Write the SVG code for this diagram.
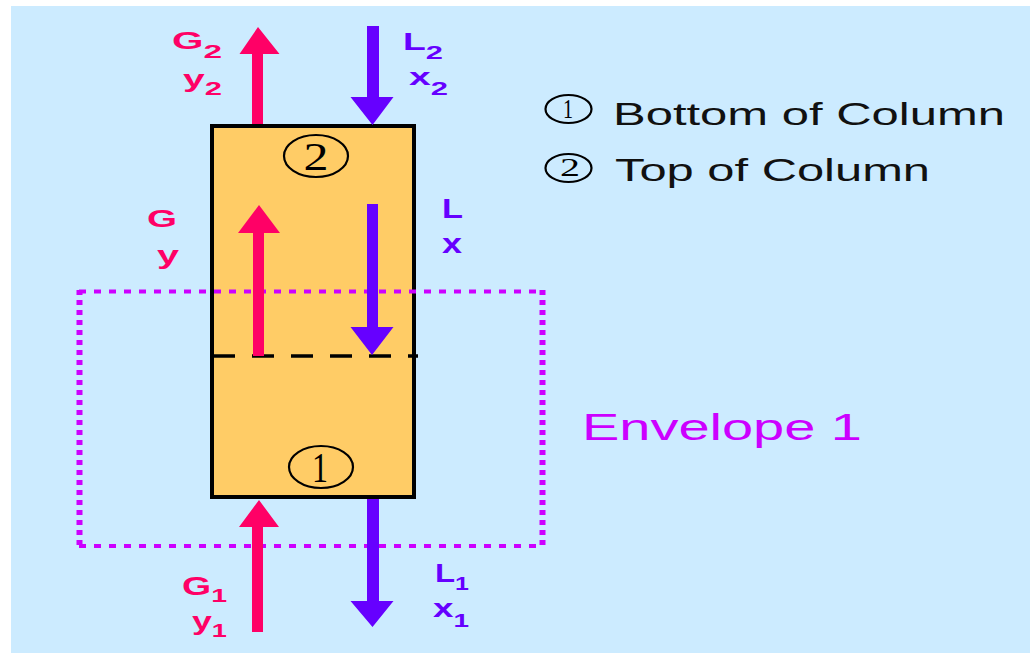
<svg xmlns="http://www.w3.org/2000/svg" width="1030" height="653" viewBox="0 0 1030 653">
<style>
.lbl{font-family:"Liberation Sans",Arial,sans-serif;font-weight:bold;}
.g{fill:#FF0066;}
.l{fill:#6600FF;}
.num{font-family:"Liberation Serif","Times New Roman",serif;fill:#000;}
.ell{fill:none;stroke:#000;stroke-width:2.2;}
.leg{font-family:"Liberation Sans",Arial,sans-serif;font-size:32px;fill:#111;}
.env{stroke:#CC00FF;fill:none;}
</style>
<rect x="0" y="0" width="1030" height="653" fill="#FFFFFF"/>
<rect x="11" y="6" width="1019" height="647" fill="#CCEBFF"/>

<g id="column">
<rect x="212" y="126" width="202" height="371" fill="#FFCC66" stroke="#000" stroke-width="4"/>
<line x1="213" y1="356" x2="418" y2="356" stroke="#000" stroke-width="3.5" stroke-dasharray="22 17"/>
<ellipse class="ell" cx="316" cy="156" rx="32" ry="21"/>
<text class="num" x="316" y="170" font-size="40" text-anchor="middle" textLength="25" lengthAdjust="spacingAndGlyphs">2</text>
<ellipse class="ell" cx="321" cy="467" rx="32" ry="21"/>
<text class="num" x="320" y="482" font-size="42" text-anchor="middle" textLength="16" lengthAdjust="spacingAndGlyphs">1</text>
</g>

<g id="envelope">
<line class="env" x1="79" y1="291.5" x2="542" y2="291.5" stroke-width="4" stroke-dasharray="7 8"/>
<line class="env" x1="79" y1="546" x2="542" y2="546" stroke-width="4" stroke-dasharray="7 8"/>
<line class="env" x1="79.5" y1="290" x2="79.5" y2="548" stroke-width="6" stroke-dasharray="5 5"/>
<line class="env" x1="542.5" y1="290" x2="542.5" y2="548" stroke-width="6" stroke-dasharray="5 5"/>
<text x="582" y="440" font-family="Liberation Sans,Arial,sans-serif" font-size="37" fill="#CC00FF" textLength="280" lengthAdjust="spacingAndGlyphs">Envelope 1</text>
</g>

<g id="connectors">
<path class="g" d="M252,124 V54 H239.5 L258,27 L279.5,54 H263 V124 Z"/>
<path class="l" d="M367,26 H379 V97 H393.5 L372.5,125 L350.5,97 H367 Z"/>
<path class="g" d="M253,356 V233 H238 L259,205 L280,233 H264 V356 Z"/>
<path class="l" d="M367,204 H378 V327 H393.5 L372,355 L350.5,327 H367 Z"/>
<path class="g" d="M252,632 V527 H239 L259,500 L279,527 H263 V632 Z"/>
<path class="l" d="M367,499 H379 V601 H393.5 L372.5,627 L350.5,601 H367 Z"/>
</g>

<g id="labels">
<text class="lbl g" x="172" y="49" font-size="23" textLength="50" lengthAdjust="spacingAndGlyphs">G<tspan dy="9" font-size="19">2</tspan></text>
<text class="lbl g" x="183" y="87" font-size="24" textLength="39" lengthAdjust="spacingAndGlyphs">y<tspan dy="8" font-size="19">2</tspan></text>
<text class="lbl l" x="403" y="50" font-size="23" textLength="40" lengthAdjust="spacingAndGlyphs">L<tspan dy="9" font-size="19">2</tspan></text>
<text class="lbl l" x="409" y="85" font-size="24" textLength="39" lengthAdjust="spacingAndGlyphs">x<tspan dy="10" font-size="19">2</tspan></text>
<text class="lbl g" x="147" y="227" font-size="24" textLength="30" lengthAdjust="spacingAndGlyphs">G</text>
<text class="lbl g" x="157" y="264" font-size="26" textLength="22" lengthAdjust="spacingAndGlyphs">y</text>
<text class="lbl l" x="442" y="218" font-size="27" textLength="21" lengthAdjust="spacingAndGlyphs">L</text>
<text class="lbl l" x="442" y="253" font-size="28" textLength="20" lengthAdjust="spacingAndGlyphs">x</text>
<text class="lbl g" x="182" y="595" font-size="25" textLength="45" lengthAdjust="spacingAndGlyphs">G<tspan dy="7" font-size="19">1</tspan></text>
<text class="lbl g" x="192" y="630" font-size="25" textLength="35" lengthAdjust="spacingAndGlyphs">y<tspan dy="7" font-size="19">1</tspan></text>
<text class="lbl l" x="435" y="582" font-size="25" textLength="34" lengthAdjust="spacingAndGlyphs">L<tspan dy="8" font-size="19">1</tspan></text>
<text class="lbl l" x="433" y="617" font-size="25" textLength="36" lengthAdjust="spacingAndGlyphs">x<tspan dy="10" font-size="19">1</tspan></text>
</g>

<g id="legend">
<ellipse class="ell" cx="568.5" cy="109" rx="23" ry="14"/>
<text class="num" x="568" y="118" font-size="27" text-anchor="middle" textLength="10" lengthAdjust="spacingAndGlyphs">1</text>
<text class="leg" x="613" y="125" textLength="392" lengthAdjust="spacingAndGlyphs">Bottom of Column</text>
<ellipse class="ell" cx="568.5" cy="168" rx="23" ry="14"/>
<text class="num" x="570" y="176" font-size="25" text-anchor="middle" textLength="20" lengthAdjust="spacingAndGlyphs">2</text>
<text class="leg" x="615" y="181" textLength="315" lengthAdjust="spacingAndGlyphs">Top of Column</text>
</g>
</svg>
